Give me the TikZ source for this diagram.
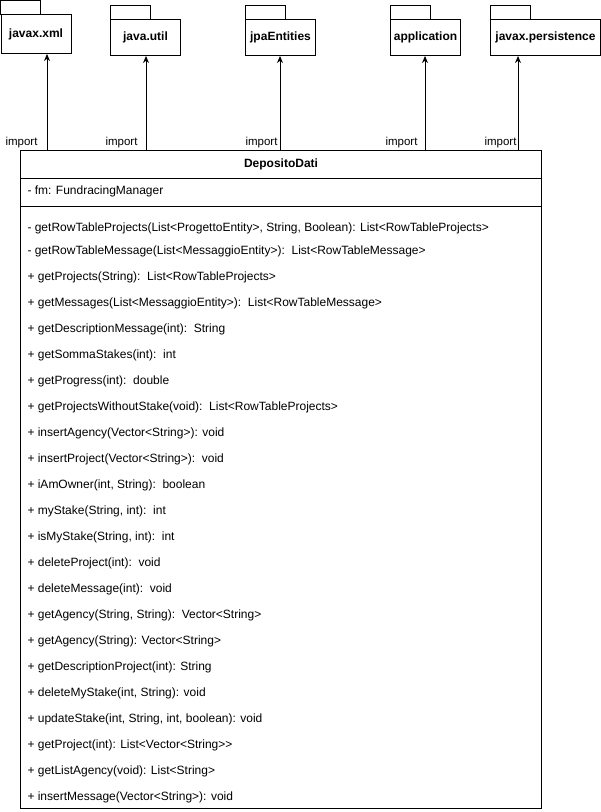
\documentclass[tikz,border=0pt]{standalone}
\usepackage{fontspec}
\setmainfont[Ligatures=NoCommon]{Liberation Sans}
\usetikzlibrary{arrows.meta}
\begin{document}
\begin{tikzpicture}[x=1pt,y=-1pt,line width=1pt,
  pkgtab/.style={draw,fill=white},
  pkgbody/.style={draw,fill=white,anchor=north west,inner sep=0pt,
    font=\fontsize{12}{14}\selectfont\bfseries},
  box/.style={draw,anchor=north west,inner sep=0pt,minimum width=521pt},
  member/.style={anchor=west,inner sep=0pt,font=\fontsize{12}{14}\selectfont},
  imp/.style={-{Stealth[length=7pt,width=6pt]},line width=1pt},
  implabel/.style={anchor=base east,inner sep=0pt,font=\fontsize{11.5}{13}\selectfont}]
\useasboundingbox (0,0) rectangle (601,812);

% packages: tab on top of a body
\draw[pkgtab] (0.5,0.5) rectangle (40,14);
\node[pkgbody,minimum width=70pt,minimum height=39pt] (xml) at (0.5,14) {javax.xml};
\draw[pkgtab] (110,5) rectangle (150,19);
\node[pkgbody,minimum width=70pt,minimum height=36pt] (util) at (110,19) {java.util};
\draw[pkgtab] (245,5) rectangle (285,19);
\node[pkgbody,minimum width=70pt,minimum height=36pt] (jpa) at (245,19) {jpaEntities};
\draw[pkgtab] (390,5) rectangle (430,19);
\node[pkgbody,minimum width=70pt,minimum height=36pt] (app) at (390,19) {application};
\draw[pkgtab] (490,5) rectangle (530,19);
\node[pkgbody,minimum width=110pt,minimum height=36pt] (pers) at (490,19) {javax.persistence};

% class DepositoDati
\node[box,minimum height=28pt,font=\fontsize{12}{14}\selectfont\bfseries] (cls) at (20,150) {DepositoDati};
\node[box,minimum height=28pt] (attrs) at (20,178) {};
\node[box,minimum height=602pt] (ops) at (20,206) {};
\node[member] (fm) at (27,191) {- fm: FundracingManager};

\node[member] (m1) at (27,228) {- getRowTableProjects(List<ProgettoEntity>, String, Boolean): List<RowTableProjects>};
\foreach [count=\i from 2] \m in {
  {- getRowTableMessage(List<MessaggioEntity>):\ \ List<RowTableMessage>},
  {+ getProjects(String):\ \ List<RowTableProjects>},
  {+ getMessages(List<MessaggioEntity>):\ \ List<RowTableMessage>},
  {+ getDescriptionMessage(int):\ \ String},
  {+ getSommaStakes(int):\ \ int},
  {+ getProgress(int):\ \ double},
  {+ getProjectsWithoutStake(void):\ \ List<RowTableProjects>},
  {+ insertAgency(Vector<String>): void},
  {+ insertProject(Vector<String>):\ \ void},
  {+ iAmOwner(int, String):\ \ boolean},
  {+ myStake(String, int):\ \ int},
  {+ isMyStake(String, int):\ \ int},
  {+ deleteProject(int):\ \ void},
  {+ deleteMessage(int):\ \ void},
  {+ getAgency(String, String):\ \ Vector<String>},
  {+ getAgency(String): Vector<String>},
  {+ getDescriptionProject(int): String},
  {+ deleteMyStake(int, String): void},
  {+ updateStake(int, String, int, boolean): void},
  {+ getProject(int): List<Vector<String>{}>},
  {+ getListAgency(void): List<String>},
  {+ insertMessage(Vector<String>): void}}
  \node[member] (m\i) at (27,{225+26*(\i-1)}) {\m};

% import dependencies
\coordinate (a1) at (47,150);
\coordinate (a2) at (146,150);
\coordinate (a3) at (280,150);
\coordinate (a4) at (425,150);
\coordinate (a5) at (518,150);
\draw[imp] (a1) -- (xml.south -| a1);
\draw[imp] (a2) -- (util.south -| a2);
\draw[imp] (a3) -- (jpa.south -| a3);
\draw[imp] (a4) -- (app.south -| a4);
\draw[imp] (a5) -- (pers.south -| a5);
\node[implabel] (l1) at (38,145) {import};
\node[implabel] (l2) at (138,145) {import};
\node[implabel] (l3) at (278,145) {import};
\node[implabel] (l4) at (418,145) {import};
\node[implabel] (l5) at (517,145) {import};
\end{tikzpicture}
\end{document}
